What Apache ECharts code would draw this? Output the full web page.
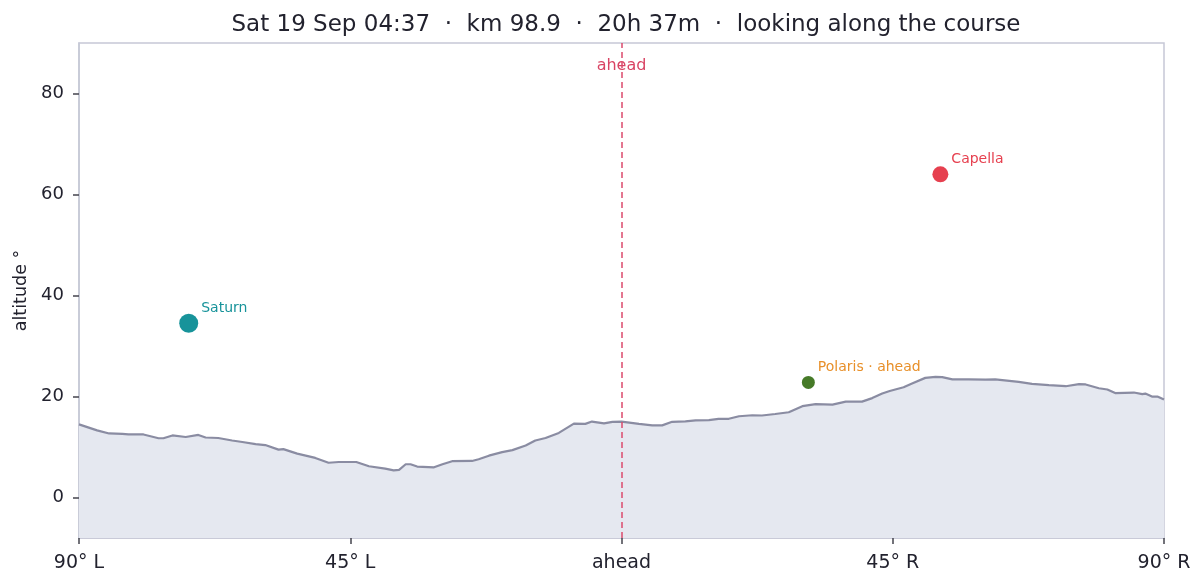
<!DOCTYPE html>
<html>
<head>
<meta charset="utf-8">
<script src="https://cdn.jsdelivr.net/npm/echarts@6/dist/echarts.min.js"></script>
<style>html,body{margin:0;padding:0;background:#fff}#c{width:1204px;height:586px}</style>
</head>
<body>
<div id="c"></div>
<script>
const titleText = 'Sat 19 Sep 04:37  \u00b7  km 98.9  \u00b7  20h 37m  \u00b7  looking along the course';
const xTicks = [-90, -45, 0, 45, 90];
const xTickLabels = ['90\u00b0 L', '45\u00b0 L', 'ahead', '45\u00b0 R', '90\u00b0 R'];
const yTicks = [0, 20, 40, 60, 80];
const terrainDeg = [-90,-87,-85,-82.8,-81.8,-79.3,-76.8,-76,-74.5,-72.3,-70.2,-69,-66.9,-64.6,-62.9,-60.7,-59.1,-56.9,-56.1,-53.8,-50.8,-48.6,-46.9,-44,-41.9,-39.2,-37.8,-36.9,-35.8,-35,-33.9,-31.1,-29.7,-28.1,-24.8,-23.7,-22,-19.8,-18.1,-15.9,-14.3,-12.6,-10.4,-7.9,-6,-4.9,-2.9,-1.5,0,2.9,5.1,6.75,8.4,10.6,12.3,14.5,16.1,17.8,19.5,21.7,23.3,25.5,27.75,30,32.2,35,37.2,39.9,41.6,43.25,44.5,46.8,48.2,50.4,52.1,53.2,54.9,57.6,60.4,62,65.9,68.1,70.9,73.7,75.9,77,79.2,80.6,81.9,85,86.4,86.9,88,88.9,90];
const terrainAlt = [14.5,13.3,12.7,12.6,12.5,12.5,11.75,11.75,12.3,12.0,12.4,11.9,11.8,11.3,11.0,10.6,10.4,9.5,9.6,8.7,7.85,6.9,7.05,7.05,6.2,5.75,5.4,5.5,6.6,6.6,6.15,6.0,6.6,7.2,7.25,7.6,8.3,9.0,9.4,10.3,11.3,11.8,12.8,14.65,14.6,15.05,14.7,15.0,15.05,14.6,14.3,14.3,15.0,15.1,15.3,15.35,15.6,15.6,16.1,16.3,16.25,16.55,16.9,18.1,18.5,18.4,19.0,19.0,19.7,20.6,21.1,21.85,22.6,23.7,23.9,23.85,23.4,23.4,23.35,23.4,22.9,22.5,22.25,22.05,22.45,22.4,21.65,21.4,20.7,20.8,20.5,20.6,20.0,20.0,19.4];
const bodyNames = ['Saturn', 'Capella', 'Polaris \u00b7 ahead'];
const bodyDeg = [-71.8, 52.9, 31.0];
const bodyAlt = [34.5, 64.0, 22.8];
const bodySize = [19, 16, 13];
const bodyColor = ['#17939a', '#e6404f', '#467a28'];
const bodyLabelColor = ['#17939a', '#e6404f', '#e8902a'];
const aheadMark = [0, 85.4];

const FONT = 'DejaVu Sans';
const chart = echarts.init(document.getElementById('c'), null, {renderer: 'canvas'});
const terrain = terrainDeg.map((d, i) => [d, terrainAlt[i]]);
const bodies = bodyNames.map((n, i) => ({
  name: n,
  value: [bodyDeg[i], bodyAlt[i]],
  symbolSize: bodySize[i],
  itemStyle: {color: bodyColor[i], opacity: 1},
  label: {color: bodyLabelColor[i]}
}));
chart.setOption({
  animation: false,
  title: {
    text: titleText, left: 621, top: 9, textAlign: 'center',
    textStyle: {fontFamily: FONT, fontSize: 23, fontWeight: 'normal', color: '#22222e'}
  },
  grid: {left: 79, right: 40, top: 43, bottom: 48, show: true, borderColor: '#c6c8d6', borderWidth: 1.5, backgroundColor: 'transparent'},
  xAxis: {
    type: 'value', min: -90, max: 90, interval: 45,
    axisLine: {show: true, onZero: false, lineStyle: {color: '#c6c8d6', width: 1.5}},
    axisTick: {show: true, length: 6, lineStyle: {color: '#44444e', width: 1.5}},
    splitLine: {show: false},
    axisLabel: {
      fontFamily: FONT, fontSize: 19, color: '#22222e', margin: 16,
      formatter: v => xTickLabels[xTicks.indexOf(v)] ?? ''
    }
  },
  yAxis: {
    type: 'value', min: -8, max: 90,
    name: 'altitude \u00b0', nameLocation: 'middle', nameGap: 47, nameRotate: 90,
    nameTextStyle: {fontFamily: FONT, fontSize: 17.5, color: '#22222e'},
    axisLine: {show: true, onZero: false, lineStyle: {color: '#c6c8d6', width: 1.5}},
    axisTick: {show: true, length: 6, customValues: yTicks, lineStyle: {color: '#44444e', width: 1.5}},
    splitLine: {show: false},
    axisLabel: {fontFamily: FONT, fontSize: 18, color: '#22222e', margin: 15, customValues: yTicks}
  },
  series: [
    {
      type: 'line', data: terrain, symbol: 'none', smooth: false,
      lineStyle: {color: '#8a8ca2', width: 2.2},
      areaStyle: {color: '#e5e8f0', opacity: 1, origin: 'start'},
      z: 2,
      markLine: {
        silent: true, symbol: 'none',
        lineStyle: {color: '#dc4a6c', type: [6, 4], width: 1.5},
        label: {show: false},
        data: [{xAxis: 0}]
      }
    },
    {
      type: 'scatter', data: [{value: aheadMark, name: 'ahead'}], symbolSize: 0,
      label: {show: true, position: 'inside', formatter: '{b}', fontFamily: FONT, fontSize: 16, color: '#d0143c'},
      z: 4
    },
    {
      type: 'scatter', data: bodies, z: 5,
      label: {show: true, position: 'right', distance: 3, offset: [0, -15], formatter: '{b}', fontFamily: FONT, fontSize: 14}
    }
  ]
});
</script>
</body>
</html>
